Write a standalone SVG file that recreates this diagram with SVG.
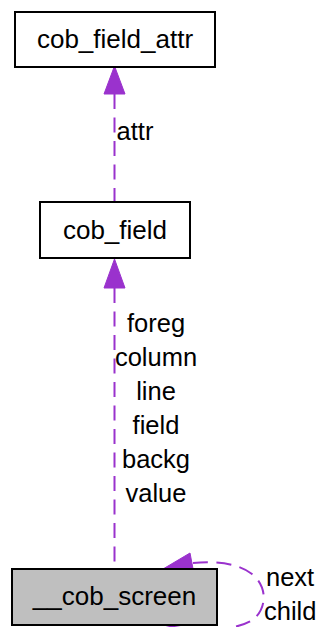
<svg xmlns="http://www.w3.org/2000/svg" width="322" height="627" viewBox="0 0 322 627">
  <style>
    .node rect { fill: #ffffff; stroke: #000000; stroke-width: 2; }
    .node.current rect { fill: #bfbfbf; }
    .node text { font-family: "Liberation Sans", Arial, sans-serif; font-size: 26px; fill: #000000; text-anchor: middle; }
    .edge path, .edge line { fill: none; stroke: #9a32cd; stroke-width: 2; stroke-dasharray: 15 8.5; }
    .edge polygon { fill: #9a32cd; stroke: #9a32cd; stroke-width: 1; }
    .label { font-family: "Liberation Sans", Arial, sans-serif; font-size: 25.5px; fill: #000000; }
    .label.mid { text-anchor: middle; }
  </style>

  <!-- connectors -->
  <g id="edges">
    <!-- __cob_screen -> cob_field -->
    <g class="edge" id="edge-screen-field">
      <line x1="114.5" y1="288" x2="114.5" y2="568"/>
      <polygon points="114.5,259 104,288 125,288"/>
      <text class="label mid" x="156" y="332">foreg</text>
      <text class="label mid" x="156" y="366">column</text>
      <text class="label mid" x="156" y="400">line</text>
      <text class="label mid" x="156" y="434">field</text>
      <text class="label mid" x="156" y="468">backg</text>
      <text class="label mid" x="156" y="502">value</text>
    </g>
    <!-- cob_field -> cob_field_attr -->
    <g class="edge" id="edge-field-attr">
      <line x1="114.5" y1="94" x2="114.5" y2="201"/>
      <polygon points="114.5,66 104,94 125,94"/>
      <text class="label mid" x="135" y="140">attr</text>
    </g>
    <!-- __cob_screen self loop -->
    <g class="edge" id="edge-screen-self">
      <path d="M166,625 C190,632 240,632 255,618 C268,605 266,585 252,574 C238,563 215,561 193,563"/>
      <polygon points="163,569 190,553 194,574"/>
      <text class="label" x="266" y="586">next</text>
      <text class="label" x="264" y="620">child</text>
    </g>
  </g>

  <g id="cob_field_attr" class="node">
    <rect x="15" y="12" width="200" height="55"/>
    <text x="115" y="48">cob_field_attr</text>
  </g>

  <g id="cob_field" class="node">
    <rect x="40" y="202" width="150" height="56"/>
    <text x="115" y="239">cob_field</text>
  </g>

  <g id="__cob_screen" class="node current">
    <rect x="12" y="569" width="205" height="56"/>
    <text x="114.5" y="605">__cob_screen</text>
  </g>
</svg>
